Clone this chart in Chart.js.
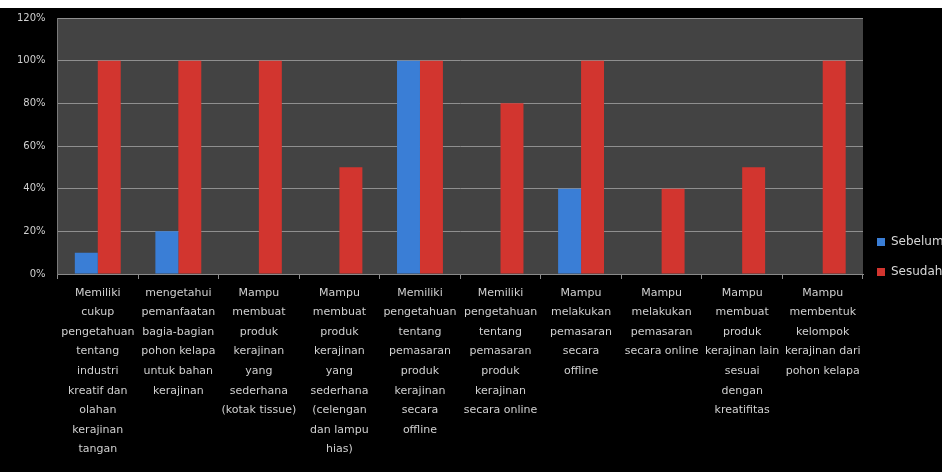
<!DOCTYPE html>
<html>
<head>
<meta charset="utf-8">
<script src="https://cdn.jsdelivr.net/npm/chart.js@4"></script>
<style>
  html, body { margin: 0; padding: 0; background: #fff; }
  #strip { height: 8px; background: #fff; }
  #wrap { width: 942px; height: 464px; background: #000; position: relative; }
</style>
</head>
<body>
<div id="strip"></div>
<div id="wrap"><canvas id="chart"></canvas></div>
<script>
// kategori (label sumbu x, beberapa baris)
const categories = [
    ['Memiliki', 'cukup', 'pengetahuan', 'tentang', 'industri', 'kreatif dan', 'olahan', 'kerajinan', 'tangan'],
    ['mengetahui', 'pemanfaatan', 'bagia-bagian', 'pohon kelapa', 'untuk bahan', 'kerajinan'],
    ['Mampu', 'membuat', 'produk', 'kerajinan', 'yang', 'sederhana', '(kotak tissue)'],
    ['Mampu', 'membuat', 'produk', 'kerajinan', 'yang', 'sederhana', '(celengan', 'dan lampu', 'hias)'],
    ['Memiliki', 'pengetahuan', 'tentang', 'pemasaran', 'produk', 'kerajinan', 'secara', 'offline'],
    ['Memiliki', 'pengetahuan', 'tentang', 'pemasaran', 'produk', 'kerajinan', 'secara online'],
    ['Mampu', 'melakukan', 'pemasaran', 'secara', 'offline'],
    ['Mampu', 'melakukan', 'pemasaran', 'secara online'],
    ['Mampu', 'membuat', 'produk', 'kerajinan lain', 'sesuai', 'dengan', 'kreatifitas'],
    ['Mampu', 'membentuk', 'kelompok', 'kerajinan dari', 'pohon kelapa']
];
const seriesNames = ['Sebelum', 'Sesudah'];
const sebelum = [10, 20, 0, 0, 100, 0, 40, 0, 0, 0];
const sesudah = [100, 100, 100, 50, 100, 80, 100, 40, 50, 100];
const yTicks = [0, 20, 40, 60, 80, 100, 120];

const BLUE = '#3a7ed6';
const RED = '#d2352f';

// latar abu-abu area plot
const plotBg = {
    id: 'plotBg',
    beforeDraw(chart) {
        const a = chart.chartArea, c = chart.ctx;
        c.save();
        c.fillStyle = '#434343';
        c.fillRect(a.left, a.top, a.right - a.left, a.bottom - a.top);
        c.restore();
    }
};

// legenda manual di kanan
const sideLegend = {
    id: 'sideLegend',
    afterDraw(chart) {
        const c = chart.ctx;
        c.save();
        c.font = '12px "DejaVu Sans"';
        c.textBaseline = 'middle';
        chart.data.datasets.forEach(function (ds, i) {
            const y = 234 + i * 30;
            c.fillStyle = ds.backgroundColor;
            c.fillRect(877, y - 4, 8, 8);
            c.fillStyle = '#d8d8d8';
            c.fillText(ds.label, 891, y);
        });
        c.restore();
    }
};

new Chart(document.getElementById('chart'), {
    type: 'bar',
    data: {
        labels: categories,
        datasets: [
            { label: seriesNames[0], data: sebelum, backgroundColor: BLUE },
            { label: seriesNames[1], data: sesudah, backgroundColor: RED }
        ]
    },
    options: {
        responsive: true,
        maintainAspectRatio: false,
        animation: false,
        layout: { padding: { left: 0, right: 79, top: 10, bottom: 0 } },
        datasets: { bar: { categoryPercentage: 0.57, barPercentage: 1 } },
        plugins: { legend: { display: false }, tooltip: { enabled: false } },
        scales: {
            x: {
                grid: { display: true, offset: true, drawOnChartArea: false, color: '#8a8a8a', tickLength: 5 },
                border: { color: '#8a8a8a' },
                ticks: {
                    color: '#d0d0d0',
                    font: { family: 'DejaVu Sans', size: 11, lineHeight: 1.78 },
                    maxRotation: 0, minRotation: 0, autoSkip: false, padding: 4
                },
                afterFit(scale) { scale.height = 198; }
            },
            y: {
                min: 0, max: 120,
                afterBuildTicks(scale) { scale.ticks = yTicks.map(v => ({ value: v })); },
                grid: { color: '#8f8f8f', drawTicks: false },
                border: { color: '#7a7a7a' },
                ticks: {
                    color: '#d0d0d0',
                    font: { family: 'DejaVu Sans', size: 10 },
                    padding: 12,
                    callback: v => v + '%'
                },
                afterFit(scale) {
                    scale.width = 57.5;
                    scale.paddingTop = 0;
                    scale.paddingBottom = 0;
                }
            }
        }
    },
    plugins: [plotBg, sideLegend]
});
</script>
</body>
</html>
